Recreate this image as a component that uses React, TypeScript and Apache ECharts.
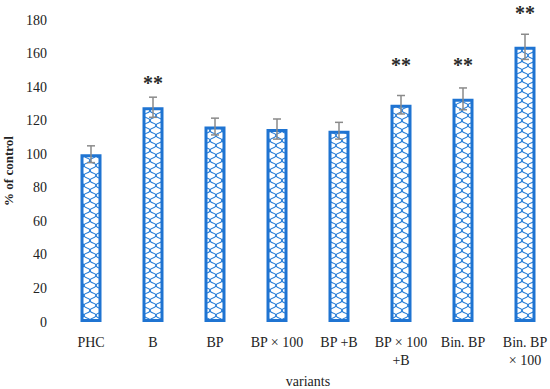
import React, { useEffect, useRef } from "react";
import * as echarts from "echarts";

const categories = ["PHC", "B", "BP", "BP × 100", "BP +B", "BP × 100\n+B", "Bin. BP", "Bin. BP\n× 100"];
const values = [100, 128, 116.5, 115, 114, 129.5, 133, 164];
const errors = [5, 6, 5, 6, 5, 5.5, 6.5, 7.5];
const starY = [null, 143, null, null, null, 154, 154, 185];

function makePattern(): HTMLCanvasElement {
  const c = document.createElement("canvas");
  c.width = 12;
  c.height = 10;
  const ctx = c.getContext("2d")!;
  ctx.fillStyle = "#ffffff";
  ctx.fillRect(0, 0, 12, 10);
  ctx.strokeStyle = "#2a7fd8";
  ctx.lineWidth = 1.1;
  const arc = (cx: number, cy: number) => {
    ctx.beginPath();
    ctx.moveTo(cx - 6, cy);
    ctx.bezierCurveTo(cx - 6, cy + 4, cx - 1, cy + 2, cx, cy + 5);
    ctx.bezierCurveTo(cx + 1, cy + 2, cx + 6, cy + 4, cx + 6, cy);
    ctx.stroke();
  };
  arc(6, -5);
  arc(6, 5);
  arc(0, 0);
  arc(12, 0);
  arc(0, 10);
  arc(12, 10);
  return c;
}

export default function App() {
  const ref = useRef<HTMLDivElement>(null);
  useEffect(() => {
    if (!ref.current) return;
    const chart = echarts.init(ref.current, undefined, { renderer: "svg" });
    const pattern = makePattern();
    const font = "Liberation Serif";
    chart.setOption({
      animation: false,
      grid: { left: 60, top: 20, width: 496, height: 302, containLabel: false, outerBoundsMode: "none" },
      xAxis: {
        type: "category",
        data: categories,
        axisLine: { show: false },
        axisTick: { show: false },
        axisLabel: { color: "#222", fontFamily: font, fontSize: 14, margin: 11, lineHeight: 18, interval: 0 },
        name: "variants",
        nameLocation: "middle",
        nameGap: 52,
        nameTextStyle: { color: "#222", fontFamily: font, fontSize: 14 },
      },
      yAxis: {
        type: "value",
        min: 0,
        max: 180,
        interval: 20,
        splitLine: { show: false },
        axisLine: { show: false },
        axisTick: { show: false },
        axisLabel: { color: "#222", fontFamily: font, fontSize: 14, margin: 13 },
        name: "% of control",
        nameLocation: "middle",
        nameGap: 42,
        nameTextStyle: { color: "#222", fontFamily: font, fontSize: 13, fontWeight: "bold" },
      },
      series: [
        {
          type: "bar",
          data: values,
          barWidth: 21,
          itemStyle: {
            color: { image: pattern, repeat: "repeat" },
            borderColor: "#1f74d2",
            borderWidth: 3,
          },
        },
        {
          type: "custom",
          clip: false,
          data: values.map((v, i) => [i, v, errors[i]]),
          renderItem: (params: any, api: any) => {
            const i = api.value(0);
            const v = api.value(1);
            const e = api.value(2);
            const top = api.coord([i, v + e]);
            const bot = api.coord([i, v - e]);
            const x = top[0];
            const cap = 4;
            const st = { stroke: "#8a8a8a", lineWidth: 1.5 };
            return {
              type: "group",
              children: [
                { type: "line", shape: { x1: x, y1: top[1], x2: x, y2: bot[1] }, style: st },
                { type: "line", shape: { x1: x - cap, y1: top[1], x2: x + cap, y2: top[1] }, style: st },
                { type: "line", shape: { x1: x - cap, y1: bot[1], x2: x + cap, y2: bot[1] }, style: st },
              ],
            };
          },
          z: 5,
        },
        {
          type: "custom",
          clip: false,
          data: starY.map((s, i) => (s == null ? null : [i, s])).filter((d) => d != null),
          renderItem: (params: any, api: any) => {
            const p = api.coord([api.value(0), api.value(1)]);
            return {
              type: "text",
              x: p[0],
              y: p[1] + 1,
              style: {
                text: "**",
                fill: "#2a2a2a",
                font: `bold 20px ${font}`,
                align: "center",
                verticalAlign: "middle",
              },
            };
          },
          z: 6,
        },
      ],
    });
    return () => chart.dispose();
  }, []);
  return <div ref={ref} style={{ position: "absolute", left: 0, top: 0, width: 550, height: 389 }} />;
}
